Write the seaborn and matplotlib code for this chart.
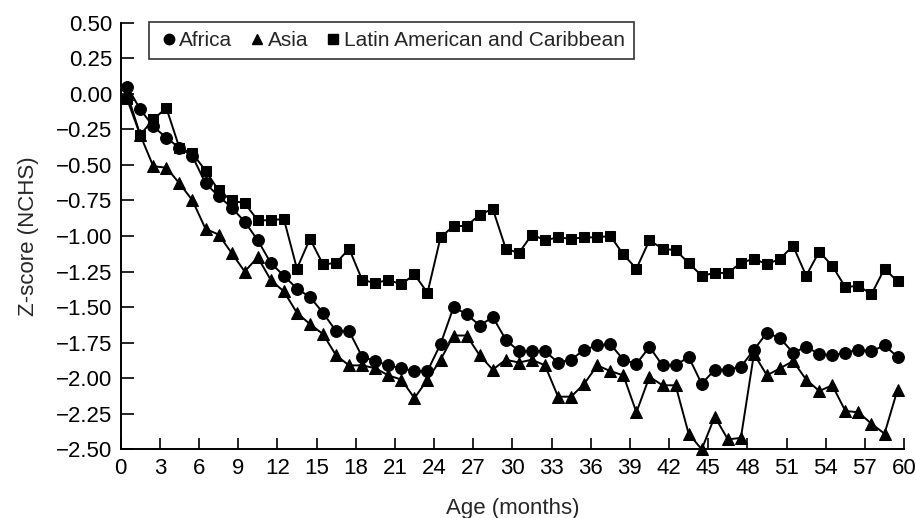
import numpy as np
import pandas as pd
import seaborn as sns
import matplotlib.pyplot as plt
from matplotlib.lines import Line2D

# age in months (mid-month points)
ages = [0.5, 1.5, 2.5, 3.5, 4.5, 5.5, 6.5, 7.5, 8.5, 9.5,
        10.5, 11.5, 12.5, 13.5, 14.5, 15.5, 16.5, 17.5, 18.5, 19.5,
        20.5, 21.5, 22.5, 23.5, 24.5, 25.5, 26.5, 27.5, 28.5, 29.5,
        30.5, 31.5, 32.5, 33.5, 34.5, 35.5, 36.5, 37.5, 38.5, 39.5,
        40.5, 41.5, 42.5, 43.5, 44.5, 45.5, 46.5, 47.5, 48.5, 49.5,
        50.5, 51.5, 52.5, 53.5, 54.5, 55.5, 56.5, 57.5, 58.5, 59.5]

africa = [0.05, -0.11, -0.23, -0.31, -0.38, -0.44, -0.63, -0.72, -0.80, -0.90,
          -1.03, -1.19, -1.28, -1.37, -1.43, -1.54, -1.67, -1.67, -1.85, -1.88,
          -1.91, -1.93, -1.95, -1.95, -1.76, -1.50, -1.55, -1.63, -1.57, -1.73,
          -1.81, -1.81, -1.81, -1.89, -1.87, -1.80, -1.77, -1.76, -1.87, -1.90,
          -1.78, -1.91, -1.91, -1.85, -2.04, -1.94, -1.94, -1.92, -1.80, -1.68,
          -1.72, -1.82, -1.78, -1.83, -1.84, -1.82, -1.80, -1.81, -1.77, -1.85]

asia = [0.00, -0.29, -0.51, -0.52, -0.63, -0.75, -0.95, -0.99, -1.12, -1.25,
        -1.15, -1.31, -1.39, -1.54, -1.62, -1.69, -1.84, -1.91, -1.91, -1.93,
        -1.98, -2.01, -2.14, -2.01, -1.87, -1.70, -1.70, -1.84, -1.94, -1.87,
        -1.89, -1.87, -1.91, -2.13, -2.13, -2.04, -1.91, -1.95, -1.98, -2.24,
        -1.99, -2.05, -2.05, -2.39, -2.50, -2.27, -2.43, -2.42, -1.83, -1.98,
        -1.93, -1.88, -2.01, -2.09, -2.05, -2.23, -2.24, -2.32, -2.39, -2.08]

latin = [-0.04, -0.29, -0.18, -0.10, -0.38, -0.42, -0.54, -0.68, -0.75, -0.77,
         -0.89, -0.89, -0.88, -1.23, -1.02, -1.20, -1.19, -1.09, -1.31, -1.33,
         -1.31, -1.34, -1.27, -1.40, -1.01, -0.93, -0.93, -0.85, -0.81, -1.09,
         -1.12, -0.99, -1.03, -1.01, -1.02, -1.01, -1.01, -1.00, -1.13, -1.23,
         -1.03, -1.09, -1.10, -1.19, -1.28, -1.26, -1.26, -1.19, -1.16, -1.20,
         -1.16, -1.07, -1.28, -1.11, -1.21, -1.36, -1.35, -1.41, -1.23, -1.32]

regions = ["Africa", "Asia", "Latin American and Caribbean"]
markers = {"Africa": "o", "Asia": "^", "Latin American and Caribbean": "s"}
sizes = {"Africa": 8.5, "Asia": 8.5, "Latin American and Caribbean": 7.5}

df = pd.concat([
    pd.DataFrame({"age": ages, "z": africa, "region": "Africa"}),
    pd.DataFrame({"age": ages, "z": asia, "region": "Asia"}),
    pd.DataFrame({"age": ages, "z": latin, "region": "Latin American and Caribbean"}),
])

sns.set_style("ticks")
plt.rcParams["font.family"] = ["Liberation Sans", "DejaVu Sans"]

fig = plt.figure(figsize=(9.16, 5.18), dpi=100)
ax = fig.add_axes([0.1317, 0.1326, 0.8553, 0.8238])

# draw Asia first, then Africa, then Latin America on top
for reg in ["Asia", "Africa", "Latin American and Caribbean"]:
    sns.lineplot(
        data=df[df["region"] == reg],
        x="age",
        y="z",
        color="black",
        marker=markers[reg],
        markersize=sizes[reg],
        markeredgecolor="black",
        markerfacecolor="black",
        linewidth=1.4,
        clip_on=False,
        ax=ax,
    )

ax.set_xlim(0, 60)
ax.set_ylim(-2.5, 0.5)
ax.set_xticks(range(0, 61, 3))
yt = [0.5, 0.25, 0, -0.25, -0.5, -0.75, -1, -1.25, -1.5, -1.75, -2, -2.25, -2.5]
ax.set_yticks(yt)
ax.set_yticklabels([f"{v:.2f}".replace("-", "\u2212") for v in yt])

sns.despine(ax=ax)
for s in ["left", "bottom"]:
    ax.spines[s].set_linewidth(1.4)
    ax.spines[s].set_color("black")
ax.tick_params(axis="y", direction="in", length=9, width=1.2, labelsize=16, pad=6, colors="black")
ax.tick_params(axis="x", direction="in", length=8, width=1.2, labelsize=16, pad=6, colors="black")

ax.set_xlabel("Age (months)", fontsize=16, labelpad=14)
ax.set_ylabel("Z-score (NCHS)", fontsize=16, labelpad=12)

handles = [Line2D([], [], color="black", marker=markers[r], linestyle="none",
                  markersize=sizes[r] - 1) for r in regions]
leg = ax.legend(handles, regions, ncol=3, loc="upper left",
                bbox_to_anchor=(0.036, 1.002), fontsize=15, frameon=True,
                fancybox=False, edgecolor="black", handletextpad=0.0,
                columnspacing=0.7, handlelength=1.0, borderpad=0.45,
                borderaxespad=0)
leg.get_frame().set_linewidth(1.2)

plt.savefig("out.png", dpi=100)
